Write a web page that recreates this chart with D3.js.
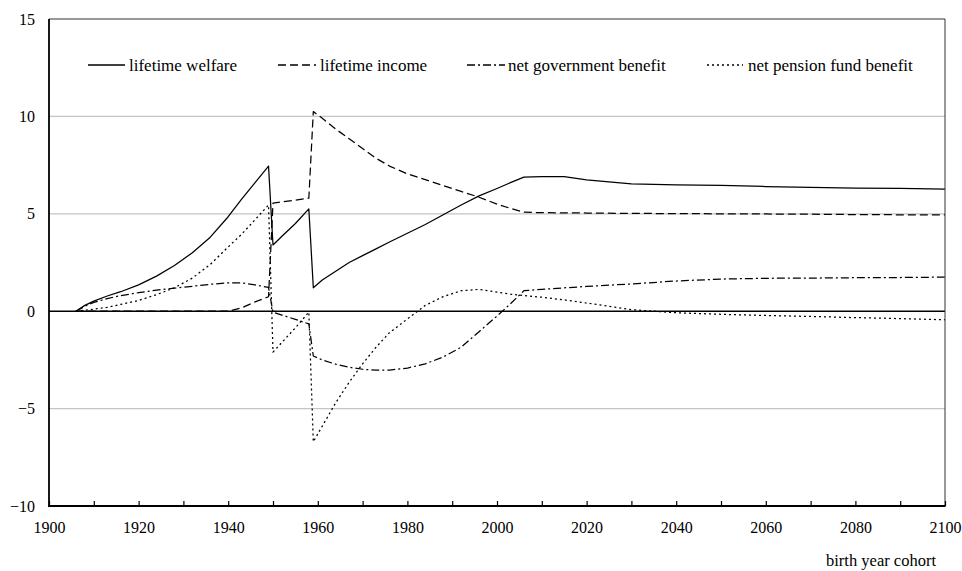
<!DOCTYPE html>
<html>
<head>
<meta charset="utf-8">
<script src="https://cdn.jsdelivr.net/npm/d3@7"></script>
<style>
  html, body { margin: 0; padding: 0; background: #fff; }
  svg { display: block; font-family: "Liberation Serif", "Times New Roman", serif; }
</style>
</head>
<body>
<svg id="chart" width="962" height="571"></svg>
<script>
// Birth-year cohorts
const years = [1906, 1908, 1910, 1913, 1916, 1920, 1924, 1928, 1932, 1936, 1940, 1943, 1946, 1949,
  1950, 1952, 1955, 1958,
  1959, 1961, 1964, 1967, 1970, 1973, 1976, 1980, 1984, 1988, 1992, 1996, 2000, 2003, 2006,
  2010, 2015, 2020, 2030, 2040, 2050, 2060, 2070, 2080, 2090, 2100];

const lifetimeWelfare = [0, 0.3, 0.52, 0.78, 1.0, 1.35, 1.8, 2.35, 3.0, 3.8, 4.85, 5.75, 6.6, 7.45,
  3.4, 3.85, 4.5, 5.25,
  1.2, 1.6, 2.05, 2.5, 2.85, 3.2, 3.55, 4.0, 4.45, 4.95, 5.45, 5.92, 6.3, 6.6, 6.88,
  6.91, 6.91, 6.74, 6.54, 6.49, 6.46, 6.4, 6.36, 6.32, 6.3, 6.27];

const lifetimeIncome = [0, 0, 0, 0, 0, 0, 0, 0, 0, 0, 0, 0.17, 0.48, 0.74,
  5.55, 5.62, 5.7, 5.8,
  10.25, 9.9, 9.35, 8.85, 8.35, 7.85, 7.45, 7.05, 6.75, 6.45, 6.15, 5.85, 5.5, 5.28, 5.08,
  5.06, 5.05, 5.04, 5.02, 5.01, 5.0, 4.99, 4.98, 4.96, 4.95, 4.94];

const netGovernmentBenefit = [0, 0.25, 0.45, 0.65, 0.8, 0.95, 1.08, 1.18, 1.28, 1.38, 1.46, 1.45, 1.35, 1.22,
  -0.05, -0.2, -0.42, -0.65,
  -2.3, -2.5, -2.72, -2.88, -2.98, -3.03, -3.02, -2.92, -2.7, -2.35, -1.85, -1.05, -0.25, 0.38, 1.05,
  1.12, 1.2, 1.27, 1.4, 1.55, 1.65, 1.69, 1.7, 1.72, 1.73, 1.75];

const netPensionFundBenefit = [0, 0.05, 0.1, 0.2, 0.35, 0.55, 0.85, 1.2, 1.7, 2.4, 3.3, 3.95, 4.7, 5.45,
  -2.1, -1.6, -0.85, -0.05,
  -6.7, -5.9, -4.7, -3.65, -2.7, -1.85, -1.1, -0.4, 0.3, 0.75, 1.05, 1.12, 0.98, 0.88, 0.8,
  0.72, 0.58, 0.42, 0.08, -0.08, -0.16, -0.22, -0.27, -0.33, -0.38, -0.44];

const seriesNames = ["lifetime welfare", "lifetime income", "net government benefit", "net pension fund benefit"];
const seriesValues = [lifetimeWelfare, lifetimeIncome, netGovernmentBenefit, netPensionFundBenefit];
const seriesDash = [null, "8,4", "8,3,2,3", "2,3"];

const xTicks = d3.range(1900, 2101, 20);
const xMinorTicks = d3.range(1900, 2101, 10);
const yTicks = [-10, -5, 0, 5, 10, 15];
const gridValues = [-5, 5, 10];
const xTitle = "birth year cohort";

const svg = d3.select("#chart");
const plotLeft = 49, plotRight = 945, plotTop = 19, plotBottom = 506;

const x = d3.scaleLinear().domain([1900, 2100]).range([plotLeft, plotRight]);
const y = d3.scaleLinear().domain([-10, 15]).range([plotBottom, plotTop]);

// horizontal gridlines
svg.append("g")
  .selectAll("line")
  .data(gridValues)
  .join("line")
  .attr("x1", plotLeft).attr("x2", plotRight)
  .attr("y1", d => y(d)).attr("y2", d => y(d))
  .attr("stroke", "#c4c4c4")
  .attr("stroke-width", 1.2);

// zero line
svg.append("line")
  .attr("x1", plotLeft).attr("x2", plotRight)
  .attr("y1", y(0)).attr("y2", y(0))
  .attr("stroke", "#000")
  .attr("stroke-width", 1.4);

// series lines
const line = d3.line()
  .x((d, i) => x(years[i]))
  .y(d => y(d));

svg.append("g")
  .selectAll("path")
  .data(seriesValues)
  .join("path")
  .attr("d", d => line(d))
  .attr("fill", "none")
  .attr("stroke", "#000")
  .attr("stroke-width", 1.25)
  .attr("stroke-linejoin", "round")
  .attr("stroke-dasharray", (d, i) => seriesDash[i]);

// frame: light top/right, heavy left/bottom
svg.append("line").attr("x1", plotLeft).attr("x2", plotRight).attr("y1", plotTop).attr("y2", plotTop)
  .attr("stroke", "#333").attr("stroke-width", 1);
svg.append("line").attr("x1", plotRight).attr("x2", plotRight).attr("y1", plotTop).attr("y2", plotBottom)
  .attr("stroke", "#333").attr("stroke-width", 1);

// x axis with inward ticks
const xAxis = svg.append("g")
  .attr("transform", `translate(0,${plotBottom})`)
  .call(d3.axisBottom(x).tickValues(xMinorTicks).tickSize(-5).tickPadding(15.5)
    .tickFormat(d => xTicks.includes(d) ? String(d) : ""));
xAxis.select(".domain").remove();
xAxis.selectAll(".tick line").attr("stroke", "#000").attr("stroke-width", 1.2);
xAxis.selectAll("text").attr("font-size", 16).attr("fill", "#000")
  .attr("font-family", "Liberation Serif, Times New Roman, serif");

// y axis labels
const yAxis = svg.append("g")
  .attr("transform", `translate(${plotLeft},0)`)
  .call(d3.axisLeft(y).tickValues(yTicks).tickSize(0).tickPadding(14));
yAxis.select(".domain").remove();
yAxis.selectAll("text").attr("font-size", 16).attr("fill", "#000")
  .attr("font-family", "Liberation Serif, Times New Roman, serif");

svg.append("line").attr("x1", plotLeft).attr("x2", plotLeft).attr("y1", plotTop).attr("y2", plotBottom + 0.9)
  .attr("stroke", "#000").attr("stroke-width", 1.8);
svg.append("line").attr("x1", plotLeft - 0.9).attr("x2", plotRight + 0.5).attr("y1", plotBottom).attr("y2", plotBottom)
  .attr("stroke", "#000").attr("stroke-width", 1.8);

// axis title
svg.append("text")
  .attr("x", 936).attr("y", 566)
  .attr("text-anchor", "end")
  .attr("font-size", 16.5)
  .text(xTitle);

// legend
const legendItems = [
  { lx1: 88, lx2: 125, tx: 129 },
  { lx1: 278, lx2: 316, tx: 320 },
  { lx1: 467, lx2: 505, tx: 508 },
  { lx1: 707, lx2: 743, tx: 748 }
];
const legendY = 65;
const lg = svg.append("g")
  .selectAll("g")
  .data(seriesNames)
  .join("g");
lg.append("line")
  .attr("x1", (d, i) => legendItems[i].lx1)
  .attr("x2", (d, i) => legendItems[i].lx2)
  .attr("y1", legendY).attr("y2", legendY)
  .attr("stroke", "#000")
  .attr("stroke-width", 1.4)
  .attr("stroke-dasharray", (d, i) => seriesDash[i]);
lg.append("text")
  .attr("x", (d, i) => legendItems[i].tx)
  .attr("y", legendY + 6)
  .attr("font-size", 17)
  .text(d => d);
</script>
</body>
</html>
